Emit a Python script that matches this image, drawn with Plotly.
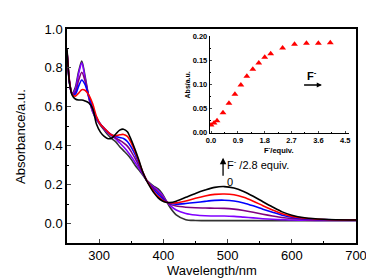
import plotly.graph_objects as go

# ---------------- data ----------------
wavelength = [250, 254, 258, 263, 268, 273, 278, 284, 290, 296, 302, 308, 314, 320, 326,
              332, 338, 344, 350, 356, 362, 368, 374, 380, 386, 392, 398, 404, 410, 420,
              435, 450, 465, 480, 495, 510, 525, 540, 555, 570, 585, 600, 620, 650, 700]

abs_0equiv = [0.88, 0.72, 0.67, 0.70, 0.78, 0.835, 0.76, 0.65, 0.575, 0.535, 0.505, 0.48, 0.455, 0.435, 0.42,
              0.395, 0.375, 0.355, 0.33, 0.30, 0.275, 0.25, 0.222, 0.205, 0.19, 0.178, 0.155, 0.12, 0.085, 0.045,
              0.02, 0.016, 0.015, 0.015, 0.015, 0.015, 0.015, 0.015, 0.015, 0.015, 0.015, 0.015, 0.015, 0.015, 0.015]

abs_violet = [0.885, 0.72, 0.665, 0.69, 0.77, 0.826, 0.75, 0.645, 0.575, 0.535, 0.51, 0.485, 0.465, 0.45, 0.435,
              0.415, 0.395, 0.372, 0.345, 0.315, 0.285, 0.255, 0.222, 0.20, 0.185, 0.17, 0.148, 0.118, 0.095, 0.07,
              0.052, 0.044, 0.04, 0.039, 0.039, 0.037, 0.033, 0.029, 0.025, 0.022, 0.02, 0.018, 0.017, 0.016, 0.016]

abs_purple = [0.885, 0.725, 0.665, 0.675, 0.735, 0.778, 0.735, 0.65, 0.585, 0.54, 0.51, 0.487, 0.468, 0.452, 0.44,
              0.428, 0.415, 0.398, 0.37, 0.335, 0.298, 0.26, 0.222, 0.197, 0.178, 0.16, 0.138, 0.115, 0.10, 0.09,
              0.084, 0.081, 0.08, 0.079, 0.078, 0.074, 0.067, 0.058, 0.048, 0.039, 0.031, 0.026, 0.021, 0.018, 0.017]

abs_blue = [0.885, 0.727, 0.665, 0.665, 0.705, 0.738, 0.715, 0.655, 0.595, 0.545, 0.512, 0.49, 0.47, 0.455, 0.447,
            0.442, 0.437, 0.422, 0.393, 0.355, 0.31, 0.263, 0.222, 0.193, 0.17, 0.15, 0.13, 0.113, 0.104, 0.10,
            0.103, 0.108, 0.114, 0.119, 0.12, 0.116, 0.106, 0.091, 0.074, 0.058, 0.043, 0.033, 0.025, 0.02, 0.018]

abs_red = [0.89, 0.73, 0.665, 0.655, 0.67, 0.688, 0.685, 0.66, 0.615, 0.55, 0.51, 0.49, 0.47, 0.455, 0.452,
           0.456, 0.458, 0.448, 0.415, 0.37, 0.318, 0.265, 0.222, 0.19, 0.16, 0.138, 0.122, 0.111, 0.107, 0.106,
           0.116, 0.13, 0.142, 0.15, 0.152, 0.148, 0.135, 0.115, 0.092, 0.07, 0.05, 0.037, 0.027, 0.021, 0.018]

abs_28equiv = [0.90, 0.72, 0.66, 0.64, 0.635, 0.635, 0.63, 0.62, 0.59, 0.51, 0.47, 0.448, 0.436, 0.44, 0.46,
               0.48, 0.485, 0.472, 0.43, 0.38, 0.325, 0.265, 0.22, 0.185, 0.155, 0.132, 0.117, 0.109, 0.108, 0.115,
               0.135, 0.155, 0.172, 0.186, 0.19, 0.183, 0.165, 0.14, 0.112, 0.085, 0.06, 0.043, 0.03, 0.022, 0.018]

series_colors = ["#333333", "#8000ff", "#800080", "#0000ff", "#ff0000", "#000000"]

f_equiv = [0.0, 0.1, 0.2, 0.4, 0.6, 0.8, 1.0, 1.2, 1.4, 1.6, 1.8, 2.0, 2.4, 2.8, 3.2, 3.6, 4.0]
abs_490 = [0.0146, 0.019, 0.0235, 0.040, 0.060, 0.079, 0.098, 0.116, 0.131, 0.144, 0.156, 0.163,
           0.175, 0.183, 0.185, 0.185, 0.186]

x_ticks = [300, 400, 500, 600, 700]
y_ticks = [0.0, 0.2, 0.4, 0.6, 0.8, 1.0]
inset_x_ticks = [0.0, 0.9, 1.8, 2.7, 3.6, 4.5]
inset_y_ticks = [0.00, 0.05, 0.10, 0.15, 0.20]

# ---------------- figure ----------------
FONT = "Arial, Liberation Sans, sans-serif"
fig = go.Figure()

all_series = [abs_0equiv, abs_violet, abs_purple, abs_blue, abs_red, abs_28equiv]
for vals, col in zip(all_series, series_colors):
    fig.add_trace(go.Scatter(x=wavelength, y=vals, mode="lines",
                             line=dict(color=col, width=1.6, shape="spline", smoothing=0.8),
                             hoverinfo="skip", showlegend=False))

fig.add_trace(go.Scatter(x=f_equiv, y=abs_490, mode="markers", xaxis="x2", yaxis="y2",
                         marker=dict(symbol="triangle-up", color="#ff0000", size=6),
                         showlegend=False))

inset_font = dict(size=7.5, family=FONT, weight="bold")

fig.update_layout(
    width=374, height=278,
    margin=dict(l=59, r=26, t=21, b=43),
    paper_bgcolor="white", plot_bgcolor="white",
    font=dict(family=FONT, color="black"),
    xaxis=dict(range=[250, 700], tickvals=x_ticks, ticks="inside", ticklen=4,
               minor=dict(dtick=50, tick0=250, ticks="inside", ticklen=2.5, tickcolor="black"),
               showline=True, linecolor="black", linewidth=1.5, mirror=True,
               showgrid=False, zeroline=False, tickfont=dict(size=13)),
    yaxis=dict(range=[-0.1, 1.0], tickvals=y_ticks, ticktext=["0.0", "0.2", "0.4", "0.6", "0.8", "1.0"],
               ticks="inside", ticklen=4,
               minor=dict(dtick=0.1, tick0=0, ticks="inside", ticklen=2.5, tickcolor="black"),
               showline=True, linecolor="black", linewidth=1.5, mirror=True,
               showgrid=False, zeroline=False, tickfont=dict(size=13)),
    xaxis2=dict(domain=[0.494, 0.976], anchor="y2", range=[-0.044, 4.63],
                tickvals=inset_x_ticks, ticktext=["0.0", "0.9", "1.8", "2.7", "3.6", "4.5"],
                ticks="inside", ticklen=2.5,
                minor=dict(dtick=0.45, tick0=0, ticks="inside", ticklen=1.5, tickcolor="black"),
                showline=True, linecolor="black", linewidth=1, mirror=False,
                showgrid=False, zeroline=False, tickfont=inset_font),
    yaxis2=dict(domain=[0.514, 0.967], anchor="x2", range=[-0.002, 0.2],
                tickvals=inset_y_ticks, ticktext=["0.00", "0.05", "0.10", "0.15", "0.20"],
                ticks="inside", ticklen=2.5,
                minor=dict(dtick=0.025, tick0=0, ticks="inside", ticklen=1.5, tickcolor="black"),
                showline=True, linecolor="black", linewidth=1, mirror=False,
                showgrid=False, zeroline=False, tickfont=inset_font),
)

annotations = [
    # main axis titles
    dict(text="Wavelength/nm", xref="paper", yref="paper", x=0.5, y=-0.13, xanchor="center",
         yanchor="middle", showarrow=False, font=dict(size=13)),
    dict(text="Absorbance/a.u.", xref="paper", yref="paper", x=-0.163, y=0.5, xanchor="center",
         yanchor="middle", textangle=-90, showarrow=False, font=dict(size=13)),
    # arrow with label
    dict(x=493, y=0.338, ax=493, ay=0.238, xref="x", yref="y", axref="x", ayref="y",
         showarrow=True, arrowhead=2, arrowsize=1, arrowwidth=1.3, arrowcolor="black", text=""),
    dict(text="F<sup>-</sup> /2.8 equiv.", x=496, y=0.306, xref="x", yref="y", xanchor="left",
         yanchor="middle", showarrow=False, font=dict(size=11)),
    dict(text="0", x=504, y=0.216, xref="x", yref="y", xanchor="center", yanchor="middle",
         showarrow=False, font=dict(size=11)),
    # inset annotations
    dict(text="<b>Abs/a.u.</b>", xref="paper", yref="paper", x=0.418, y=0.74, xanchor="center",
         yanchor="middle", textangle=-90, showarrow=False, font=dict(size=7)),
    dict(text="<b>F<sup>-</sup>/equiv.</b>", xref="paper", yref="paper", x=0.735, y=0.468,
         xanchor="center", yanchor="top", showarrow=False, font=dict(size=7.5)),
    dict(text="<b>F<sup>-</sup></b>", x=3.39, y=0.118, xref="x2", yref="y2", xanchor="center",
         yanchor="middle", showarrow=False, font=dict(size=11)),
    dict(x=3.72, y=0.098, ax=3.07, ay=0.098, xref="x2", yref="y2", axref="x2", ayref="y2",
         showarrow=True, arrowhead=2, arrowsize=0.8, arrowwidth=1.3, arrowcolor="black", text=""),
]
fig.update_layout(annotations=annotations)

fig.write_html("out.html")
